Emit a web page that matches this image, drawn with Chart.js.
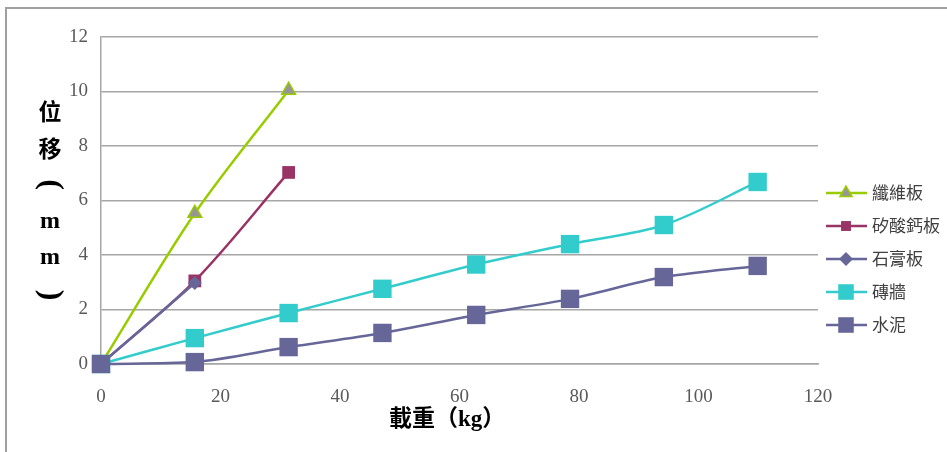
<!DOCTYPE html>
<html>
<head>
<meta charset="utf-8">
<script src="https://cdn.jsdelivr.net/npm/chart.js@4"></script>
<style>
    html, body { margin: 0; padding: 0; background: #ffffff; }
    #wrap { position: relative; width: 947px; height: 452px; }
</style>
</head>
<body>
<div id="wrap"><canvas id="loadGraph" width="947" height="452"></canvas></div>
<script>
// load steps (kg) and displacement (mm) per wall material
const loads = [0, 15.7, 31.4, 47.1, 62.8, 78.5, 94.2, 109.9];
const seriesNames = ['纖維板', '矽酸鈣板', '石膏板', '磚牆', '水泥'];
const fiberboard = [0, 5.53, 10.05];
const calciumSilicate = [0, 3.05, 7.03];
const gypsum = [0, 2.97];
const brickWall = [0, 0.95, 1.87, 2.76, 3.65, 4.4, 5.1, 6.68];
const cement = [0, 0.07, 0.62, 1.14, 1.8, 2.39, 3.19, 3.6];
const xRange = [0, 120, 20];
const yRange = [0, 12, 2];
const yTitleChars = ['位', '移', '(', 'm', 'm', ')'];
const xTitle = '載重（kg）';

const seriesValues = [fiberboard, calciumSilicate, gypsum, brickWall, cement];
const styles = [
    { line: '#99cc00', fill: '#969696', point: 'triangle', radius: 8, legendRadius: 7 },
    { line: '#993366', fill: '#993366', point: 'rect', radius: 9, legendRadius: 7 },
    { line: '#666699', fill: '#666699', point: 'rectRot', radius: 7, legendRadius: 7 },
    { line: '#33cccc', fill: '#33cccc', point: 'rect', radius: 13, legendRadius: 11 },
    { line: '#666699', fill: '#666699', point: 'rect', radius: 13, legendRadius: 11 }
];

const datasets = seriesNames.map((name, i) => ({
    label: name,
    data: seriesValues[i].map((v, j) => ({ x: loads[j], y: v })),
    borderColor: styles[i].line,
    backgroundColor: styles[i].fill,
    borderWidth: 2.5,
    tension: 0.32,
    pointStyle: styles[i].point,
    pointRadius: styles[i].radius,
    pointHoverRadius: styles[i].radius,
    pointBackgroundColor: styles[i].fill,
    pointBorderColor: i === 0 ? styles[i].line : styles[i].fill,
    pointBorderWidth: i === 0 ? 1.5 : 0,
    clip: false,
    order: seriesNames.length - i
}));

// frame, axis titles and line+marker legend
const decorations = {
    id: 'decorations',
    beforeDraw(chart) {
        const ctx = chart.ctx;
        ctx.save();
        ctx.strokeStyle = '#a0a0a0';
        ctx.lineWidth = 2;
        ctx.strokeRect(6, 8, 960, 480);
        ctx.restore();
    },
    afterDraw(chart) {
        const ctx = chart.ctx;
        ctx.save();
        ctx.fillStyle = '#000000';
        ctx.textAlign = 'center';
        ctx.textBaseline = 'middle';
        yTitleChars.forEach((c, i) => {
            const y = 111 + i * 36.8;
            if (c === '(' || c === ')') {
                // vertical-writing brackets: turn the parenthesis a quarter
                ctx.save();
                ctx.translate(50, y);
                ctx.rotate(Math.PI / 2);
                ctx.font = 'bold 32px "Liberation Serif"';
                ctx.fillText(c, 0, 0);
                ctx.restore();
                return;
            }
            ctx.font = /[a-z]/.test(c)
                ? 'bold 24px "Liberation Serif"'
                : 'bold 23px "Noto Sans CJK TC"';
            ctx.fillText(c, 50, y);
        });

        ctx.font = 'bold 23px "Liberation Serif", "Noto Sans CJK TC"';
        ctx.textAlign = 'left';
        ctx.fillText(xTitle, 389, 420);

        const legendX = 826;
        const legendY = 193;
        ctx.font = '17px "Noto Sans CJK TC"';
        chart.data.datasets.forEach((ds, i) => {
            const y = legendY + i * 33;
            ctx.strokeStyle = ds.borderColor;
            ctx.lineWidth = 2.5;
            ctx.beginPath();
            ctx.moveTo(legendX, y);
            ctx.lineTo(legendX + 41, y);
            ctx.stroke();
            ctx.fillStyle = ds.pointBackgroundColor;
            ctx.strokeStyle = ds.pointBorderColor;
            ctx.lineWidth = ds.pointBorderWidth;
            Chart.helpers.drawPoint(ctx, {
                pointStyle: ds.pointStyle,
                radius: styles[i].legendRadius,
                rotation: 0,
                borderWidth: ds.pointBorderWidth
            }, legendX + 20, y);
            ctx.fillStyle = '#404040';
            ctx.textAlign = 'left';
            ctx.fillText(ds.label, legendX + 46, y);
        });
        ctx.restore();
    }
};

Chart.defaults.font.family = '"Liberation Serif", serif';
new Chart(document.getElementById('loadGraph'), {
    type: 'line',
    data: { datasets: datasets },
    plugins: [decorations],
    options: {
        responsive: false,
        animation: false,
        layout: {
            padding: { left: 41, right: 129, top: 37, bottom: 0 }
        },
        plugins: {
            legend: { display: false },
            tooltip: { enabled: false }
        },
        scales: {
            x: {
                type: 'linear',
                min: xRange[0],
                max: xRange[1],
                afterFit(scale) { scale.height = 88; },
                ticks: {
                    stepSize: xRange[2],
                    padding: 22,
                    color: '#595959',
                    font: { size: 19 },
                    maxRotation: 0
                },
                grid: { display: false, drawTicks: false },
                border: { display: true, color: '#a6a6a6', width: 1.5 }
            },
            y: {
                min: yRange[0],
                max: yRange[1],
                afterFit(scale) { scale.width = 60; },
                ticks: {
                    stepSize: yRange[2],
                    padding: 13,
                    color: '#595959',
                    font: { size: 19 }
                },
                grid: { color: '#a6a6a6', lineWidth: 1.5, drawTicks: false },
                border: { display: true, color: '#a6a6a6', width: 1.5 }
            }
        }
    }
});
</script>
</body>
</html>
